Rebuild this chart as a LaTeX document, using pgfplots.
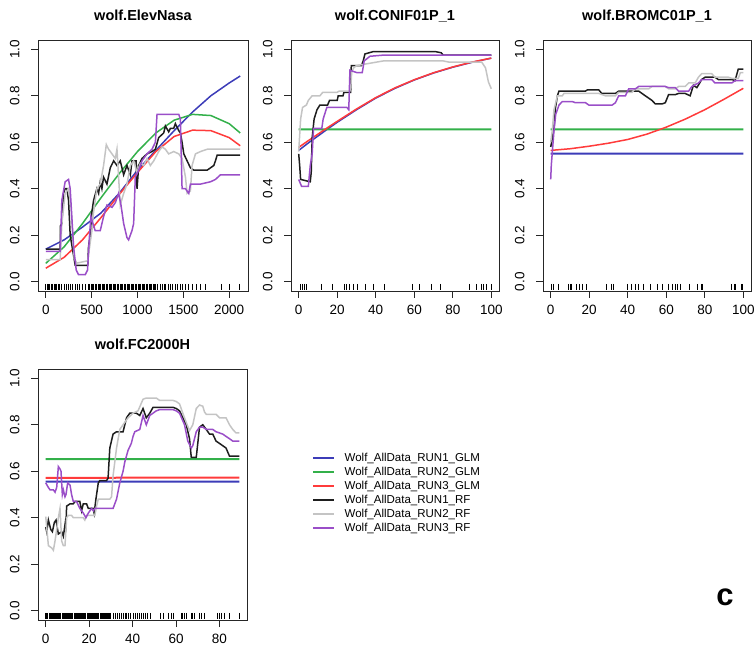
\documentclass[border=0pt]{standalone}
\usepackage{fontspec}
\setmainfont{Liberation Sans}
\usepackage{pgfplots}
\pgfplotsset{compat=1.18}
\definecolor{glmblue}{HTML}{3C3CB8}
\definecolor{glmgreen}{HTML}{33B04A}
\definecolor{glmred}{HTML}{FF3B3B}
\definecolor{rfblack}{HTML}{1E1E1E}
\definecolor{rfgray}{HTML}{C4C4C4}
\definecolor{rfpurple}{HTML}{9A4EC8}

\pgfplotsset{
  rpanel/.style={
    scale only axis, anchor=south west, height=251pt,
    ymin=-0.04, ymax=1.04, ytick={0,0.2,0.4,0.6,0.8,1},
    axis line style={line width=0.9pt, black!85},
    tick align=outside, major tick length=7pt,
    xtick pos=left, ytick pos=left,
    every tick/.style={black!85, line width=0.9pt},
    ticklabel style={font=\fontsize{13.5}{15}\selectfont},
    /pgf/number format/assume math mode=true,
    /pgf/number format/1000 sep={},
    xticklabel style={yshift=-4pt},
    yticklabel style={xshift=-8pt, rotate=90, anchor=south,
      /pgf/number format/fixed, /pgf/number format/fixed zerofill,
      /pgf/number format/precision=1},
    title style={font=\bfseries\fontsize{14.5}{16}\selectfont, anchor=base, yshift=13pt},
    every axis plot/.append style={line width=1.5pt},
  },
  flat/.style={line width=2pt},
  rug/.style={only marks, mark=|, mark size=3pt, mark options={line width=0.9pt, black}, forget plot},
}

\begin{document}
\begin{tikzpicture}
\path[use as bounding box] (0,0) rectangle (756pt,649pt);

% ---- panel 1: elevation
\begin{axis}[rpanel, at={(38pt,358pt)}, width=210pt,
  xmin=-85, xmax=2205, xtick={0,500,1000,1500,2000}, title={wolf.ElevNasa}]
\addplot[glmblue] coordinates {(0,0.14) (200,0.18) (400,0.235) (600,0.295) (800,0.38) (1000,0.48) (1200,0.565) (1400,0.65) (1600,0.73) (1800,0.80) (2000,0.855) (2120,0.885)};
\addplot[glmgreen] coordinates {(0,0.079) (200,0.15) (400,0.25) (600,0.36) (800,0.465) (1000,0.56) (1200,0.64) (1400,0.695) (1600,0.72) (1800,0.715) (2000,0.68) (2120,0.64)};
\addplot[glmred] coordinates {(0,0.058) (200,0.105) (400,0.18) (600,0.275) (800,0.375) (1000,0.47) (1200,0.56) (1400,0.625) (1600,0.652) (1800,0.65) (2000,0.62) (2120,0.585)};
\addplot[rfblack] coordinates {(0,0.14) (157,0.14) (160,0.24) (175,0.25) (193,0.38) (211,0.40) (230,0.40) (248,0.35) (266,0.20) (321,0.07) (457,0.07) (466,0.15) (485,0.20) (503,0.30) (521,0.35) (557,0.40) (576,0.38) (594,0.43) (612,0.40) (630,0.45) (667,0.42) (703,0.49) (740,0.52) (776,0.50) (812,0.52) (849,0.46) (885,0.50) (922,0.46) (940,0.52) (985,0.52) (995,0.40) (1013,0.50) (1049,0.53) (1104,0.55) (1158,0.56) (1195,0.57) (1231,0.62) (1286,0.64) (1304,0.67) (1340,0.645) (1359,0.66) (1395,0.66) (1413,0.68) (1450,0.65) (1468,0.64) (1486,0.60) (1505,0.55) (1541,0.52) (1577,0.49) (1614,0.48) (1760,0.48) (1796,0.49) (1832,0.50) (1850,0.52) (1869,0.545) (2120,0.545)};
\addplot[rfgray] coordinates {(0,0.095) (157,0.095) (175,0.25) (211,0.38) (248,0.40) (273,0.33) (310,0.10) (339,0.08) (457,0.09) (485,0.17) (503,0.22) (521,0.30) (557,0.40) (594,0.42) (630,0.50) (660,0.59) (685,0.57) (722,0.55) (758,0.53) (776,0.57) (794,0.45) (812,0.33) (849,0.38) (885,0.42) (922,0.50) (958,0.52) (995,0.47) (1031,0.51) (1067,0.50) (1104,0.53) (1140,0.50) (1177,0.52) (1231,0.56) (1268,0.58) (1304,0.57) (1340,0.55) (1395,0.56) (1450,0.55) (1486,0.53) (1523,0.45) (1541,0.38) (1577,0.39) (1595,0.50) (1632,0.55) (1687,0.56) (1760,0.57) (2120,0.57)};
\addplot[rfpurple] coordinates {(0,0.13) (157,0.13) (175,0.35) (211,0.43) (248,0.44) (266,0.40) (303,0.15) (332,0.05) (357,0.03) (430,0.03) (455,0.05) (477,0.20) (492,0.28) (514,0.25) (539,0.22) (594,0.22) (630,0.28) (667,0.33) (722,0.32) (758,0.34) (794,0.38) (820,0.33) (849,0.25) (885,0.19) (903,0.18) (940,0.22) (958,0.25) (976,0.45) (1013,0.48) (1049,0.52) (1104,0.55) (1158,0.57) (1195,0.60) (1213,0.72) (1450,0.72) (1468,0.70) (1486,0.40) (1523,0.40) (1559,0.38) (1577,0.42) (1687,0.42) (1796,0.43) (1850,0.44) (1905,0.46) (2120,0.46)};
\addplot[rug] table[row sep=\\, y expr=-0.022] {x\\ 0\\ 15\\ 30\\ 45\\ 60\\ 75\\ 90\\ 105\\ 120\\ 135\\ 150\\ 175\\ 200\\ 225\\ 250\\ 270\\ 295\\ 320\\ 345\\ 370\\ 400\\ 430\\ 460\\
480\\ 495\\ 510\\ 525\\ 540\\ 555\\ 570\\ 585\\ 600\\ 615\\ 630\\ 645\\ 660\\ 675\\ 690\\ 705\\ 720\\ 735\\ 750\\ 765\\ 780\\ 795\\ 810\\ 825\\ 840\\ 855\\ 870\\ 885\\ 900\\ 915\\ 930\\ 945\\ 960\\ 975\\ 990\\ 1005\\ 1020\\ 1035\\ 1050\\ 1065\\ 1080\\ 1095\\ 1110\\ 1125\\ 1140\\ 1155\\ 1170\\ 1185\\ 1200\\
1220\\ 1245\\ 1270\\ 1290\\ 1310\\ 1335\\ 1360\\ 1385\\ 1410\\ 1440\\ 1465\\ 1490\\ 1520\\ 1560\\ 1600\\ 1640\\ 1690\\ 1740\\ 1910\\ 2000\\ 2115\\};
\end{axis}

% ---- panel 2: conifer
\begin{axis}[rpanel, at={(291pt,358pt)}, width=208pt,
  xmin=-4, xmax=104, xtick={0,20,40,60,80,100}, title={wolf.CONIF01P\_1}]
\addplot[glmblue] coordinates {(0,0.565) (5,0.597) (10,0.627) (15,0.657) (20,0.686) (30,0.74) (40,0.79) (50,0.832) (60,0.868) (70,0.898) (80,0.923) (90,0.944) (100,0.962)};
\addplot[glmgreen, flat] coordinates {(0,0.655) (100,0.6552)};
\addplot[glmred] coordinates {(0,0.578) (5,0.607) (10,0.635) (15,0.663) (20,0.69) (30,0.743) (40,0.792) (50,0.834) (60,0.869) (70,0.899) (80,0.924) (90,0.945) (100,0.962)};
\addplot[rfblack] coordinates {(0,0.55) (0.5,0.50) (1,0.44) (6,0.43) (6.5,0.47) (7,0.62) (8,0.70) (9.5,0.74) (11,0.76) (15,0.76) (16,0.78) (20,0.78) (20.5,0.80) (23,0.80) (23.5,0.815) (27,0.815) (27.3,0.93) (32.6,0.93) (33.5,0.95) (34.4,0.98) (38.7,0.99) (71,0.99) (74,0.985) (75,0.975) (100,0.975)};
\addplot[rfgray] coordinates {(0,0.56) (1,0.70) (2,0.75) (4,0.76) (5,0.78) (7,0.80) (11,0.80) (12.5,0.815) (20,0.815) (21,0.82) (26.5,0.82) (27,0.83) (27.5,0.90) (28.5,0.92) (30,0.93) (37,0.94) (44,0.95) (75,0.95) (78,0.945) (95,0.945) (97,0.92) (98.5,0.86) (100,0.83)};
\addplot[rfpurple] coordinates {(0,0.44) (1.5,0.41) (5,0.41) (6,0.50) (7,0.55) (7.7,0.66) (12,0.66) (12.7,0.70) (14.6,0.75) (25,0.75) (26,0.74) (26.6,0.91) (30,0.90) (33,0.90) (34,0.95) (37,0.97) (44,0.975) (100,0.975)};
\addplot[rug] table[row sep=\\, y expr=-0.022] {x\\ 0.9\\ 2.1\\ 3.1\\ 3.8\\ 12.0\\ 17.5\\ 23.5\\ 24.9\\ 26.1\\ 28.4\\ 30.4\\ 34.4\\ 39.0\\ 44.5\\ 59.3\\ 62.7\\ 68.7\\ 73.4\\ 88.5\\ 92.4\\ 94.8\\ 95.9\\ 97.6\\ 100\\};
\end{axis}

% ---- panel 3: bromus
\begin{axis}[rpanel, at={(543pt,358pt)}, width=208pt,
  xmin=-4, xmax=104, xtick={0,20,40,60,80,100}, title={wolf.BROMC01P\_1}]
\addplot[glmblue, flat] coordinates {(0,0.551) (100,0.5512)};
\addplot[glmgreen, flat] coordinates {(0,0.655) (100,0.6552)};
\addplot[glmred] coordinates {(0,0.565) (10,0.572) (20,0.583) (30,0.596) (40,0.612) (50,0.635) (60,0.665) (70,0.70) (80,0.74) (90,0.785) (100,0.832)};
\addplot[rfblack] coordinates {(0,0.58) (0.5,0.60) (1.7,0.66) (2.5,0.75) (3.5,0.80) (4.3,0.82) (18,0.82) (19,0.825) (25,0.825) (26.5,0.81) (33.6,0.81) (35.3,0.82) (45.7,0.82) (49.1,0.80) (52.6,0.78) (54.3,0.765) (57.8,0.765) (59.5,0.77) (61.2,0.805) (64.7,0.805) (66.4,0.81) (69.8,0.81) (72.4,0.80) (74.1,0.845) (75.9,0.835) (78.4,0.87) (80.2,0.88) (85.3,0.88) (87,0.87) (94,0.87) (95.7,0.865) (97.4,0.915) (100,0.915)};
\addplot[rfgray] coordinates {(0,0.60) (0.8,0.65) (1.7,0.74) (3.5,0.80) (6,0.80) (6.9,0.81) (25,0.81) (28.4,0.80) (33.6,0.80) (35.3,0.815) (42.2,0.815) (43.9,0.83) (50.9,0.83) (52.6,0.84) (59.5,0.84) (61.2,0.83) (64.7,0.83) (66.4,0.84) (69.8,0.84) (71.6,0.855) (75,0.855) (76.7,0.88) (78.4,0.895) (83.6,0.895) (85.3,0.88) (92.2,0.88) (94,0.875) (97.4,0.875) (98.5,0.90) (100,0.90)};
\addplot[rfpurple] coordinates {(0,0.44) (0.3,0.50) (1.7,0.65) (2.6,0.72) (4.3,0.76) (6,0.775) (11.2,0.775) (12.9,0.77) (18.1,0.77) (19.8,0.76) (31.9,0.76) (33.6,0.77) (35.3,0.80) (38.8,0.80) (40.5,0.83) (44,0.83) (45.7,0.84) (59.5,0.84) (61.2,0.835) (64.7,0.835) (66.4,0.82) (71.6,0.82) (73.3,0.84) (76.7,0.855) (78.4,0.87) (83.6,0.87) (85.3,0.855) (94,0.855) (95.7,0.865) (100,0.865)};
\addplot[rug] table[row sep=\\, y expr=-0.022] {x\\ 0.5\\ 1.4\\ 3.8\\ 9.1\\ 10\\ 10.7\\ 13.3\\ 14.7\\ 16.4\\ 18.4\\ 28.8\\ 31.4\\ 32.4\\ 39.7\\ 41.9\\ 44\\ 45.3\\ 47.9\\ 51.7\\ 55.2\\ 58.1\\ 60.9\\ 63\\ 64.7\\ 65.9\\ 67.4\\ 72.2\\ 76.4\\ 78.1\\ 79\\ 94\\ 95.3\\ 96\\ 98.8\\ 99.7\\};
\end{axis}

% ---- panel 4: forest cover, carries the legend
\begin{axis}[rpanel, at={(38pt,29pt)}, width=209pt,
  xmin=-3.56, xmax=92.66, xtick={0,20,40,60,80}, title={wolf.FC2000H},
  legend style={at={(1.311,0.673)}, anchor=north west, draw=none, fill=none,
    inner sep=0pt, font=\fontsize{11.5}{13}\selectfont,
    nodes={inner sep=1.5pt, text height=8.5pt, text depth=2.5pt}, cells={anchor=west}},
  legend image code/.code={\draw[#1, line width=2pt] (0pt,0pt) -- (21pt,0pt); \path[draw=none, fill=none] (0pt,-1pt) rectangle (30pt,1pt);}]
\addplot[glmblue, flat] coordinates {(0,0.555) (89.1,0.5552)};
\addlegendentry{Wolf\_AllData\_RUN1\_GLM}
\addplot[glmgreen, flat] coordinates {(0,0.652) (89.1,0.6522)};
\addlegendentry{Wolf\_AllData\_RUN2\_GLM}
\addplot[glmred, flat] coordinates {(0,0.572) (89.1,0.5722)};
\addlegendentry{Wolf\_AllData\_RUN3\_GLM}
\addplot[rfblack] coordinates {(0,0.36) (0.46,0.34) (1.22,0.39) (2.29,0.35) (3.06,0.34) (3.98,0.38) (4.74,0.39) (5.81,0.33) (7.34,0.34) (8.10,0.32) (8.87,0.37) (9.17,0.34) (9.63,0.45) (11.2,0.46) (12.7,0.46) (13.5,0.47) (15.7,0.47) (16.5,0.43) (17.3,0.46) (18.8,0.46) (19.6,0.44) (21.9,0.44) (22.3,0.42) (23.1,0.48) (24.2,0.55) (24.9,0.56) (28.0,0.56) (28.7,0.57) (29.5,0.70) (31.0,0.76) (32.6,0.77) (35.6,0.77) (37.2,0.83) (38.7,0.85) (41.7,0.85) (43.3,0.84) (44.8,0.87) (46.3,0.83) (47.9,0.85) (49.4,0.875) (58.6,0.875) (60.1,0.87) (61.6,0.86) (64.7,0.80) (66.2,0.74) (67.0,0.66) (69.3,0.66) (70.0,0.72) (70.8,0.79) (72.3,0.80) (73.9,0.78) (75.4,0.76) (76.9,0.76) (78.4,0.73) (81.5,0.71) (83.0,0.70) (84.6,0.665) (89.1,0.665)};
\addlegendentry{Wolf\_AllData\_RUN1\_RF}
\addplot[rfgray] coordinates {(0,0.405) (1.22,0.28) (2.75,0.27) (3.52,0.26) (4.28,0.30) (5.05,0.35) (5.81,0.40) (6.57,0.44) (7.34,0.30) (8.10,0.28) (8.87,0.28) (9.63,0.40) (10.4,0.41) (11.9,0.41) (12.7,0.40) (17.3,0.40) (18.0,0.39) (18.8,0.41) (22.6,0.41) (23.4,0.45) (24.2,0.48) (29.5,0.48) (30.3,0.49) (31.0,0.58) (32.6,0.70) (34.1,0.78) (35.6,0.80) (37.9,0.83) (40.2,0.85) (42.5,0.86) (44.8,0.91) (46.3,0.915) (50.9,0.915) (52.4,0.905) (58.6,0.905) (60.1,0.90) (61.6,0.89) (63.1,0.85) (64.7,0.81) (66.2,0.775) (67.7,0.80) (69.3,0.87) (70.8,0.885) (72.3,0.88) (73.1,0.855) (73.9,0.845) (78.4,0.845) (80.0,0.83) (83.0,0.83) (84.6,0.80) (86.1,0.78) (87.6,0.765) (89.1,0.765)};
\addlegendentry{Wolf\_AllData\_RUN2\_RF}
\addplot[rfpurple] coordinates {(0,0.55) (1.22,0.53) (1.99,0.52) (3.52,0.52) (4.28,0.51) (5.05,0.53) (5.81,0.62) (6.57,0.61) (7.03,0.60) (7.65,0.50) (8.10,0.52) (8.87,0.49) (9.33,0.50) (10.1,0.55) (11.2,0.54) (11.9,0.50) (12.7,0.47) (14.2,0.47) (15.7,0.44) (17.3,0.42) (18.5,0.40) (19.6,0.42) (21.1,0.44) (21.9,0.43) (22.6,0.44) (31.0,0.44) (32.6,0.48) (34.1,0.55) (35.6,0.60) (36.4,0.64) (37.9,0.69) (39.4,0.72) (40.2,0.75) (41.0,0.77) (43.3,0.78) (44.8,0.84) (46.3,0.80) (47.9,0.84) (50.9,0.86) (52.4,0.865) (58.6,0.865) (60.1,0.86) (61.6,0.85) (63.9,0.80) (65.4,0.73) (67.0,0.70) (67.7,0.71) (69.3,0.77) (70.8,0.79) (72.3,0.79) (73.9,0.78) (76.9,0.78) (78.4,0.77) (81.5,0.76) (83.0,0.75) (84.6,0.74) (86.1,0.73) (89.1,0.73)};
\addlegendentry{Wolf\_AllData\_RUN3\_RF}
\addplot[rug] table[row sep=\\, y expr=-0.022] {x\\ 0\\ 0.5\\ 1\\ 1.5\\ 2\\ 2.5\\ 3\\ 3.5\\ 4\\ 4.5\\ 5\\ 5.5\\ 6\\ 6.5\\ 7\\ 7.5\\ 8\\ 8.5\\ 9\\ 9.5\\ 10\\ 10.5\\ 11\\ 11.5\\ 12\\ 12.5\\ 13\\ 13.5\\ 14\\ 14.5\\ 15\\ 15.5\\ 16\\ 16.5\\ 17\\ 17.5\\ 18\\ 18.5\\ 19\\ 19.5\\ 20\\ 20.5\\ 21\\ 21.5\\ 22\\ 22.5\\ 23\\ 23.5\\ 24\\ 24.5\\ 25\\ 25.5\\ 26\\ 26.5\\ 27\\ 27.5\\ 28\\ 28.5\\ 29\\ 29.5\\ 30\\
31\\ 32\\ 33\\ 34\\ 35\\ 35.6\\ 36.5\\ 37.3\\ 38\\ 39\\ 40.5\\ 41.3\\ 42\\ 43\\ 44\\ 45.2\\ 46\\ 47\\ 48\\ 52.9\\ 54\\ 56.3\\ 57.8\\ 58.6\\ 62.4\\ 63.1\\ 63.9\\ 64.7\\ 67\\ 67.7\\ 68.5\\ 70.8\\ 71.6\\ 73.1\\ 79.2\\ 80\\ 81\\ 82.3\\ 84.6\\ 89.1\\};
\end{axis}

\node[font=\bfseries\fontsize{31}{31}\selectfont, anchor=base] at (725pt,44pt) {c};
\end{tikzpicture}
\end{document}
